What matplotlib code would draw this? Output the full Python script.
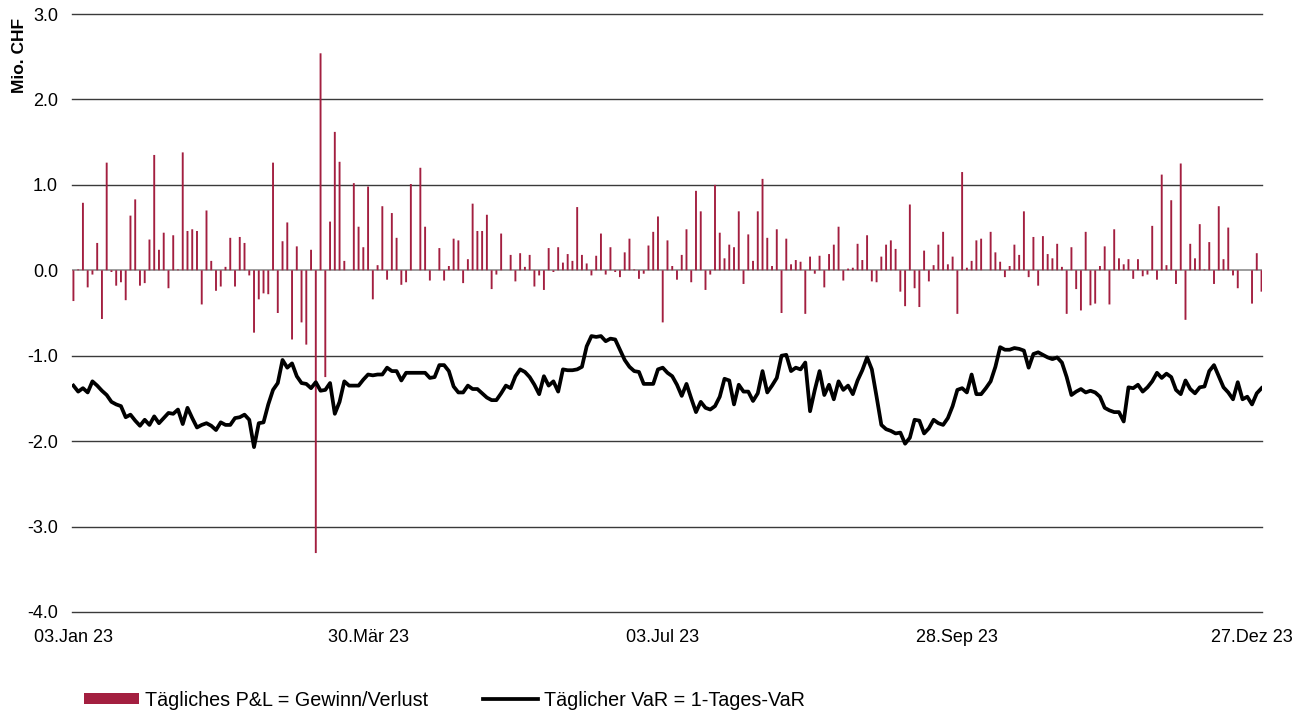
import matplotlib.pyplot as plt
import numpy as np

plt.rcParams['font.family'] = ['Liberation Sans', 'DejaVu Sans']

# Tägliches P&L (Mio. CHF), one value per trading day
pnl = [
    -0.36, 0.01, 0.79, -0.20, -0.05, 0.32, -0.57, 1.26, -0.02, -0.18,
    -0.14, -0.35, 0.64, 0.83, -0.18, -0.15, 0.36, 1.35, 0.24, 0.44,
    -0.21, 0.41, 0.01, 1.38, 0.46, 0.48, 0.46, -0.40, 0.70, 0.11,
    -0.24, -0.19, 0.04, 0.38, -0.19, 0.39, 0.32, -0.06, -0.73, -0.34,
    -0.27, -0.28, 1.26, -0.50, 0.34, 0.56, -0.81, 0.28, -0.61, -0.87,
    0.24, -3.31, 2.54, -1.25, 0.57, 1.62, 1.27, 0.11, 0.00, 1.02,
    0.51, 0.27, 0.98, -0.34, 0.06, 0.75, -0.11, 0.67, 0.38, -0.17,
    -0.14, 1.01, 0.00, 1.20, 0.51, -0.12, 0.00, 0.26, -0.12, 0.05,
    0.37, 0.35, -0.15, 0.13, 0.78, 0.46, 0.46, 0.65, -0.22, -0.05,
    0.43, 0.00, 0.18, -0.13, 0.20, 0.04, 0.18, -0.19, -0.06, -0.23,
    0.26, -0.02, 0.27, 0.09, 0.19, 0.11, 0.74, 0.18, 0.08, -0.06,
    0.17, 0.43, -0.05, 0.27, -0.02, -0.08, 0.21, 0.37, 0.01, -0.10,
    -0.04, 0.29, 0.45, 0.63, -0.61, 0.35, 0.05, -0.11, 0.18, 0.48,
    -0.14, 0.93, 0.69, -0.23, -0.05, 1.00, 0.44, 0.14, 0.30, 0.27,
    0.69, -0.16, 0.42, 0.11, 0.69, 1.07, 0.38, 0.05, 0.48, -0.50,
    0.37, 0.07, 0.12, 0.10, -0.51, 0.16, -0.04, 0.17, -0.20, 0.19,
    0.30, 0.51, -0.12, 0.02, 0.03, 0.31, 0.12, 0.41, -0.13, -0.14,
    0.16, 0.30, 0.35, 0.25, -0.25, -0.42, 0.77, -0.21, -0.43, 0.23,
    -0.13, 0.06, 0.30, 0.45, 0.07, 0.16, -0.51, 1.15, 0.03, 0.11,
    0.35, 0.37, 0.00, 0.45, 0.21, 0.10, -0.08, 0.05, 0.30, 0.18,
    0.69, -0.08, 0.39, -0.18, 0.40, 0.19, 0.14, 0.31, 0.04, -0.51,
    0.27, -0.22, -0.47, 0.45, -0.41, -0.39, 0.05, 0.28, -0.40, 0.48,
    0.14, 0.07, 0.13, -0.10, 0.13, -0.07, -0.05, 0.52, -0.11, 1.12,
    0.06, 0.82, -0.16, 1.25, -0.58, 0.31, 0.14, 0.54, 0.01, 0.33,
    -0.16, 0.75, 0.13, 0.50, -0.06, -0.21, 0.00, 0.00, -0.39, 0.20,
    -0.25,
]

# Täglicher VaR (1-Tages-VaR, Mio. CHF)
var = [
    -1.35, -1.42, -1.38, -1.43, -1.30, -1.35, -1.41, -1.46, -1.54, -1.57,
    -1.59, -1.72, -1.69, -1.76, -1.82, -1.75, -1.81, -1.71, -1.79, -1.73,
    -1.67, -1.68, -1.63, -1.80, -1.61, -1.73, -1.84, -1.81, -1.79, -1.82,
    -1.87, -1.78, -1.81, -1.81, -1.73, -1.72, -1.69, -1.75, -2.07, -1.79,
    -1.78, -1.57, -1.40, -1.32, -1.05, -1.14, -1.09, -1.24, -1.32, -1.33,
    -1.38, -1.31, -1.41, -1.40, -1.32, -1.68, -1.54, -1.30, -1.35, -1.35,
    -1.35, -1.28, -1.22, -1.23, -1.22, -1.22, -1.14, -1.18, -1.18, -1.29,
    -1.20, -1.20, -1.20, -1.20, -1.20, -1.26, -1.25, -1.11, -1.11, -1.18,
    -1.36, -1.43, -1.43, -1.35, -1.39, -1.39, -1.44, -1.49, -1.52, -1.52,
    -1.44, -1.35, -1.38, -1.24, -1.16, -1.19, -1.25, -1.34, -1.45, -1.24,
    -1.35, -1.30, -1.42, -1.16, -1.17, -1.17, -1.16, -1.13, -0.89, -0.77,
    -0.78, -0.77, -0.83, -0.80, -0.81, -0.93, -1.05, -1.13, -1.18, -1.19,
    -1.33, -1.33, -1.33, -1.16, -1.14, -1.20, -1.24, -1.34, -1.47, -1.33,
    -1.50, -1.66, -1.54, -1.61, -1.63, -1.59, -1.48, -1.27, -1.29, -1.57,
    -1.34, -1.42, -1.42, -1.53, -1.44, -1.18, -1.43, -1.35, -1.26, -1.00,
    -0.99, -1.18, -1.14, -1.16, -1.08, -1.65, -1.40, -1.18, -1.46, -1.34,
    -1.51, -1.30, -1.40, -1.35, -1.45, -1.29, -1.17, -1.02, -1.16, -1.48,
    -1.81, -1.86, -1.88, -1.91, -1.90, -2.03, -1.96, -1.75, -1.76, -1.91,
    -1.85, -1.75, -1.79, -1.81, -1.73, -1.59, -1.40, -1.38, -1.43, -1.22,
    -1.45, -1.45, -1.38, -1.30, -1.13, -0.90, -0.93, -0.93, -0.91, -0.92,
    -0.94, -1.14, -0.98, -0.96, -0.99, -1.02, -1.04, -1.02, -1.08, -1.25,
    -1.46, -1.42, -1.39, -1.43, -1.41, -1.43, -1.48, -1.61, -1.64, -1.66,
    -1.66, -1.77, -1.37, -1.38, -1.34, -1.42, -1.37, -1.30, -1.20, -1.26,
    -1.21, -1.25, -1.40, -1.45, -1.29, -1.39, -1.44, -1.37, -1.36, -1.18,
    -1.11, -1.24, -1.37, -1.43, -1.51, -1.31, -1.51, -1.48, -1.57, -1.44,
    -1.38,
]

tick_pos = [0, 62, 124, 186, 248]
tick_labels = ['03.Jan 23', '30.Mär 23', '03.Jul 23', '28.Sep 23', '27.Dez 23']
y_ticks = [3, 2, 1, 0, -1, -2, -3, -4]

bar_color = '#A31F40'
x = np.arange(len(pnl))

fig = plt.figure(figsize=(13.08, 7.15), dpi=100)
ax = fig.add_axes([72 / 1308, 1 - 612 / 715, 1190 / 1308, 598 / 715])

for y in y_ticks:
    if y == 0:
        continue
    ax.axhline(y, color='#3a3a3a', lw=1.0, zorder=1, clip_on=False)
ax.axhline(0, color='#8c8c8c', lw=1.2, zorder=1)

bars = ax.bar(x, pnl, width=0.4, color=bar_color, linewidth=0, zorder=2)
for b in bars:
    b.set_snap(False)
line, = ax.plot(x, var, color='black', lw=2.7, zorder=3)

ax.set_xlim(-0.3, len(pnl) - 1 + 0.1)
ax.set_ylim(-4, 3)
ax.set_yticks(y_ticks)
ax.set_yticklabels([f'{v:.1f}' for v in y_ticks])
ax.set_xticks(tick_pos)
ax.set_xticklabels(tick_labels)
ax.tick_params(axis='both', length=0, labelsize=13, colors='black')
ax.tick_params(axis='y', pad=10)
ax.tick_params(axis='x', pad=12)
for s in ax.spines.values():
    s.set_visible(False)

fig.text(0.009, 0.975, 'Mio. CHF', rotation=90, va='top', ha='left',
         fontsize=12.5, fontweight='bold')

fig.legend([bars, line],
           ['Tägliches P&L = Gewinn/Verlust', 'Täglicher VaR = 1-Tages-VaR'],
           loc='center left', bbox_to_anchor=(66 / 1308, 1 - 700 / 715),
           ncol=2, frameon=False, fontsize=14.2, handlelength=2.8,
           handleheight=0.5, handletextpad=0.3, columnspacing=2.8)

fig.savefig('out.png', dpi=100)
